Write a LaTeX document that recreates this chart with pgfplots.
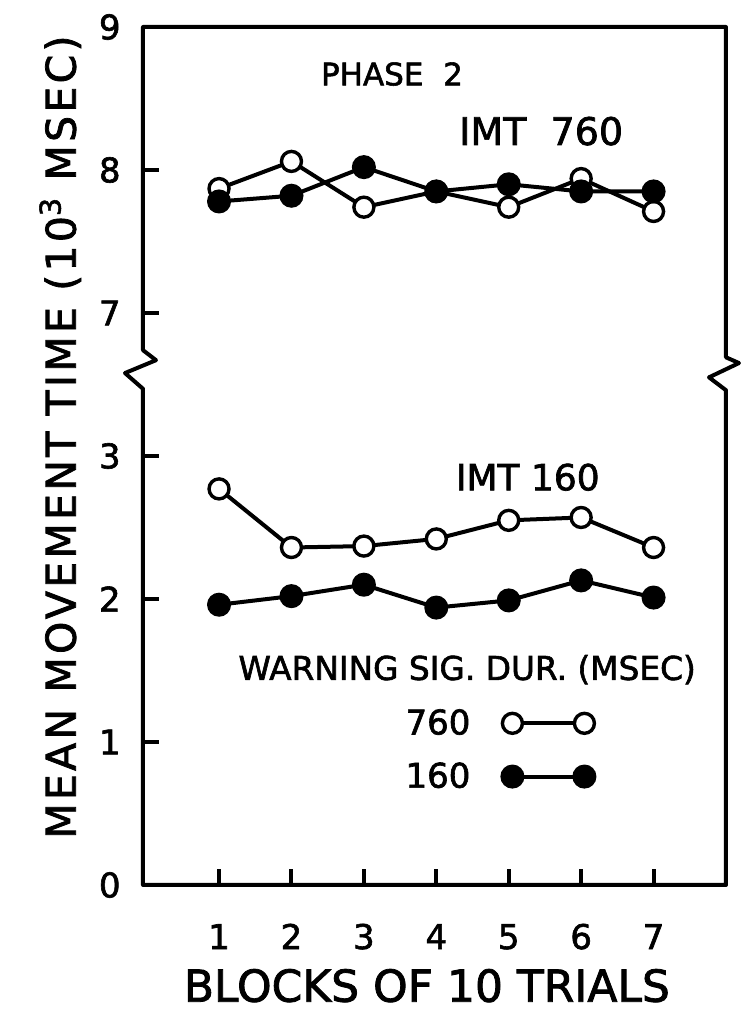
\documentclass[border=0pt]{standalone}
\usepackage{fontspec}
\setmainfont[FakeBold=1.8]{DejaVu Sans}
\newfontfamily\spaced[LetterSpace=8, FakeBold=1.8]{DejaVu Sans}
\usepackage{pgfplots}
\pgfplotsset{compat=1.18}
\newcommand\fs[1]{\fontsize{#1}{#1}\selectfont}

\begin{document}
\begin{tikzpicture}
\begin{axis}[
  scale only axis, width=291.5pt, height=429pt,
  xmin=-0.05, xmax=8, ymin=0, ymax=6,
  clip=false,
  axis line style={draw=none},
  tick pos=left, tick align=inside,
  major tick length=8pt,
  tick style={line width=2pt, black},
  xtick={1,...,7},
  ytick={0,...,6}, yticklabels={0,1,2,3,7,8,9},
  /pgf/number format/assume math mode=true,
  ticklabel style={font=\fs{17}, inner sep=0pt},
  xticklabel style={anchor=base, yshift=-32pt},
  yticklabel style={anchor=east, xshift=-11pt},
  xlabel={BLOCKS OF 10 TRIALS},
  xlabel style={at={(axis description cs:0.487,-0.136)}, anchor=base, font=\fs{22}, inner sep=0pt},
  ylabel={\spaced\fs{20.5}MEAN MOVEMENT TIME (10\textsuperscript{3} MSEC)},
  ylabel style={at={(axis description cs:-0.142,0.522)}, anchor=center, rotate=0, inner sep=0pt},
  every axis plot/.append style={line width=2pt, black},
  legend plot pos=right, legend cell align=right,
  legend image code/.code={\draw[#1] plot coordinates {(0pt,0pt) (36pt,0pt)};},
  legend style={draw=none, fill=none, inner sep=0pt, row sep=8.5pt, column sep=14pt,
    font=\fs{17}, at={(rel axis cs:0.775,0.21)}, anchor=north east},
  open/.style={mark=*, mark size=5pt, mark options={fill=white, draw=black, line width=1.7pt}},
  full/.style={mark=*, mark size=5pt, mark options={fill=black, draw=black}},
]
% IMT 760 (upper panel, drawn 3 units lower because of the break)
\addplot[open, forget plot, y filter/.expression={y-3}] coordinates {
  (1,7.87) (2,8.06) (3,7.74) (4,7.85) (5,7.74) (6,7.94) (7,7.71)};
\addplot[full, forget plot, y filter/.expression={y-3}] coordinates {
  (1,7.78) (2,7.82) (3,8.02) (4,7.85) (5,7.90) (6,7.85) (7,7.85)};
% IMT 160
\addplot[open] coordinates {
  (1,2.77) (2,2.36) (3,2.37) (4,2.42) (5,2.55) (6,2.57) (7,2.36)};
\addlegendentry{760}
\addplot[full] coordinates {
  (1,1.96) (2,2.02) (3,2.10) (4,1.94) (5,1.99) (6,2.13) (7,2.01)};
\addlegendentry{160}

% frame with the axis break
\draw[line width=2pt, line join=round]
  (rel axis cs:0,0) -- (axis cs:-0.05,3.47) -- ([xshift=-9pt]axis cs:-0.05,3.58)
  -- ([xshift=6.5pt]axis cs:-0.05,3.67) -- (axis cs:-0.05,3.74) -- (rel axis cs:0,1)
  -- (rel axis cs:1,1) -- (axis cs:8,3.69) -- ([xshift=6.5pt]axis cs:8,3.65)
  -- ([xshift=-8.5pt]axis cs:8,3.55) -- (axis cs:8,3.46) -- (rel axis cs:1,0) -- cycle;

\node[font=\fs{15.5}, anchor=base] at (rel axis cs:0.427,0.932) {PHASE\ \ 2};
\node[font=\fs{19}, anchor=base] at (rel axis cs:0.683,0.8625) {IMT\ \ 760};
\node[font=\fs{18}, anchor=base] at (rel axis cs:0.660,0.460) {IMT 160};
\node[font=\fs{16.4}, anchor=base] at (rel axis cs:0.556,0.239) {WARNING SIG. DUR. (MSEC)};
\end{axis}
\path (-71.5pt,-63.5pt) rectangle (299pt,442.5pt);
\end{tikzpicture}
\end{document}
